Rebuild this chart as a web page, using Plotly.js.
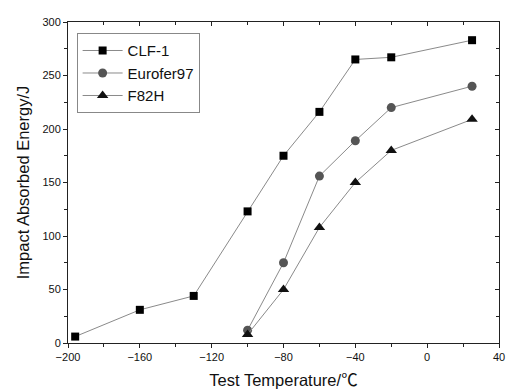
<!DOCTYPE html>
<html><head><meta charset="utf-8">
<script src="https://cdn.plot.ly/plotly-3.0.1.min.js"></script>
<style>html,body{margin:0;padding:0;background:#fff}</style>
</head><body><div id="c" style="width:510px;height:392px"></div>
<script>
const seriesNames = ["CLF-1", "Eurofer97", "F82H"];
const clfTemp = [-196, -160, -130, -100, -80, -60, -40, -20, 25];
const clfEnergy = [6, 31, 44, 123, 175, 216, 265, 267, 283];
const euroTemp = [-100, -80, -60, -40, -20, 25];
const euroEnergy = [12, 75, 156, 189, 220, 240];
const f82Temp = [-100, -80, -60, -40, -20, 25];
const f82Energy = [8, 50, 108, 150, 180, 209];
const xTicks = [-200, -160, -120, -80, -40, 0, 40];
const yTicks = [0, 50, 100, 150, 200, 250, 300];

const lineStyle = {color: "#8a8a8a", width: 1};
const traces = [
  {x: clfTemp, y: clfEnergy, name: seriesNames[0], mode: "lines+markers", line: lineStyle,
   marker: {symbol: "square", size: 8, color: "#000"}},
  {x: euroTemp, y: euroEnergy, name: seriesNames[1], mode: "lines+markers", line: lineStyle,
   marker: {symbol: "circle", size: 9, color: "#555"}},
  {x: f82Temp, y: f82Energy, name: seriesNames[2], mode: "lines+markers", line: lineStyle,
   marker: {symbol: "triangle-up", size: 10, color: "#111"}},
  {x: [0], y: [0], xaxis: "x2", yaxis: "y2", showlegend: false, hoverinfo: "skip",
   mode: "markers", marker: {opacity: 0}}
];
const fnt = {family: "Liberation Sans, Arial, Noto Sans CJK SC, sans-serif", color: "#111"};
const layout = {
  width: 510, height: 392,
  margin: {l: 68, r: 11, t: 22, b: 49},
  paper_bgcolor: "#fff", plot_bgcolor: "#fff",
  showlegend: true,
  legend: {x: 0.02, y: 0.965, xanchor: "left", yanchor: "top", bgcolor: "#fff",
    bordercolor: "#888", borderwidth: 1, font: Object.assign({size: 15}, fnt),
    tracegroupgap: 0, itemwidth: 40},
  xaxis: {range: [-200, 40], tickvals: xTicks, ticks: "outside", ticklen: 4, tickwidth: 1,
    tickcolor: "#222", linecolor: "#222", linewidth: 1, showgrid: false, zeroline: false,
    minor: {dtick: 20, ticks: "outside", ticklen: 3, tickcolor: "#222"},
    tickfont: Object.assign({size: 11}, fnt),
    title: {text: "Test Temperature/<span style=\"font-family:'Noto Sans CJK SC'\">℃</span>",
      font: Object.assign({size: 16.5}, fnt), standoff: 12}},
  yaxis: {range: [0, 300], tickvals: yTicks, ticks: "outside", ticklen: 4, tickwidth: 1,
    tickcolor: "#222", linecolor: "#222", linewidth: 1, showgrid: false, zeroline: false,
    minor: {dtick: 25, ticks: "outside", ticklen: 3, tickcolor: "#222"},
    tickfont: Object.assign({size: 11}, fnt),
    title: {text: "Impact Absorbed Energy/J", font: Object.assign({size: 16.5}, fnt), standoff: 8}},
  xaxis2: {overlaying: "x", side: "top", range: [-200, 40], tickvals: xTicks, ticks: "inside",
    ticklen: 4, tickcolor: "#222", showticklabels: false, showline: true, linecolor: "#222",
    showgrid: false, zeroline: false, minor: {dtick: 20, ticks: "inside", ticklen: 3, tickcolor: "#222"}},
  yaxis2: {overlaying: "y", side: "right", range: [0, 300], tickvals: yTicks, ticks: "inside",
    ticklen: 4, tickcolor: "#222", showticklabels: false, showline: true, linecolor: "#222",
    showgrid: false, zeroline: false, minor: {dtick: 25, ticks: "inside", ticklen: 3, tickcolor: "#222"}}
};
Plotly.newPlot("c", traces, layout, {displayModeBar: false, staticPlot: true});
</script></body></html>
